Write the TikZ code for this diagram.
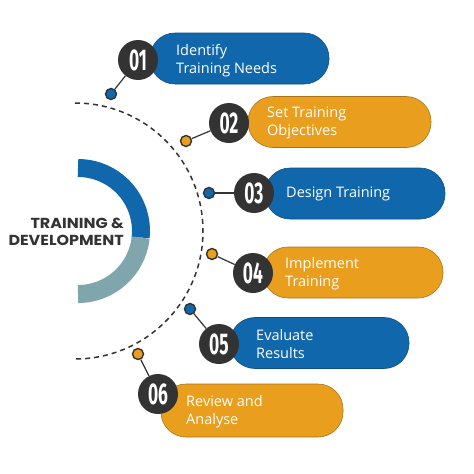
\documentclass[tikz,border=0pt]{standalone}
\usepackage{fontspec}
\usepackage{graphicx}
\setmainfont{Open Sans}
\newfontfamily\titlefont{Poppins}
\newfontfamily\numfont{Fira Sans}[FakeStretch=0.58]
\definecolor{cblue}{HTML}{1167AB}
\definecolor{cblueline}{HTML}{0B4F86}
\definecolor{corange}{HTML}{E99F1D}
\definecolor{corangeline}{HTML}{A8741A}
\definecolor{cteal}{HTML}{7FA6AC}
\definecolor{cdark}{HTML}{333333}
\newcommand{\widetitle}[1]{\scalebox{1.1}[1]{#1}}
\begin{document}
\begin{tikzpicture}[x=1pt,y=-1pt,
  pill/.style={rectangle, rounded corners=25pt, minimum height=51pt, line width=0.6pt, inner sep=0pt},
  bluepill/.style={pill, fill=cblue, draw=cblueline},
  orangepill/.style={pill, fill=corange, draw=corangeline},
  numbox/.style={circle, fill=cdark, minimum size=40pt, inner sep=0pt, text=white, font=\numfont\bfseries\fontsize{30}{30}\selectfont},
  dotbase/.style={circle, draw=cdark, line width=1.4pt, minimum size=11pt, inner sep=0pt},
  bluedot/.style={dotbase, fill=cblue},
  orangedot/.style={dotbase, fill=corange},
  steptext/.style={anchor=west, align=left, text=white, font=\fontsize{14.5}{18}\selectfont, inner sep=0pt},
  link/.style={draw=cdark, line width=1.2pt}
]
\useasboundingbox (0,0) rectangle (474,474);
\fill[white] (0,0) rectangle (474,474);

% central half ring
\draw[cblue, line width=18pt] (78,168) arc[start angle=-90, end angle=6, radius=63];
\draw[cteal, line width=18pt] (78,231) ++(6:63) arc[start angle=6, end angle=90, radius=63];
\node[align=right, anchor=east, text=cdark, font=\titlefont\bfseries\fontsize{14.5}{17}\selectfont, inner sep=0pt] (title) at (124,232) {\widetitle{TRAINING \&}\\\widetitle{DEVELOPMENT}};

% dashed arc
\draw[cdark, line width=1.5pt, dash pattern=on 5pt off 4pt] (75,103) arc[start angle=-90, end angle=90, radius=128];

% pills
\node[bluepill, minimum width=179pt] (p1) at (239.5,58.5) {};
\node[orangepill, minimum width=183pt] (p2) at (339.5,122) {};
\node[bluepill, minimum width=180pt] (p3) at (355,193.5) {};
\node[orangepill, minimum width=180pt] (p4) at (353,272.5) {};
\node[bluepill, minimum width=179pt] (p5) at (319.5,343) {};
\node[orangepill, minimum width=182pt, minimum height=53pt] (p6) at (252,410.5) {};

% texts
\node[steptext] (t1) at (176,61) {Identify\\Training Needs};
\node[steptext] (t2) at (267,123) {Set Training\\Objectives};
\node[steptext] (t3) at (286,194) {Design Training};
\node[steptext] (t4) at (285,274) {Implement\\Training};
\node[steptext] (t5) at (256,344.5) {Evaluate\\Results};
\node[steptext] (t6) at (186,412) {Review and\\Analyse};

% number circles
\node[numbox] (n1) at (138,60) {01};
\node[numbox] (n2) at (229,123) {02};
\node[numbox] (n3) at (254,193) {03};
\node[numbox] (n4) at (253,273) {04};
\node[numbox] (n5) at (219,344) {05};
\node[numbox] (n6) at (158,394) {06};

% dots
\node[bluedot] (d1) at (111,94) {};
\node[orangedot] (d2) at (186,141) {};
\node[bluedot] (d3) at (209,193) {};
\node[orangedot] (d4) at (212,254) {};
\node[bluedot] (d5) at (190,309) {};
\node[orangedot] (d6) at (138,354) {};

% connectors
\draw[link] (d1) -- (n1);
\draw[link] (d2) -- (n2);
\draw[link] (d3) -- (n3);
\draw[link] (d4) -- (n4);
\draw[link] (d5) -- (n5);
\draw[link] (d6) -- (n6);
\end{tikzpicture}
\end{document}
